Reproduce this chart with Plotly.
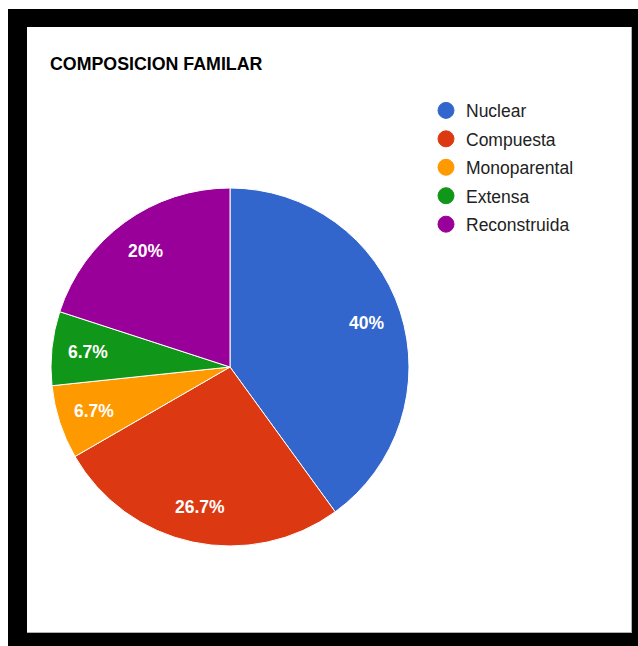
import math
import plotly.graph_objects as go

# ---- data ----
categories = ["Nuclear", "Compuesta", "Monoparental", "Extensa", "Reconstruida"]
counts = [6, 4, 1, 1, 3]
colors = ["#3366cc", "#dc3912", "#ff9900", "#109618", "#990099"]
title_text = "COMPOSICION FAMILAR"

W, H = 638, 646
FONT = "Liberation Sans, Arial, sans-serif"

total = sum(counts)
def fmt_pct(v):
    s = f"{v / total * 100:.1f}".rstrip("0").rstrip(".")
    return s + "%"
labels_txt = [fmt_pct(v) for v in counts]

fig = go.Figure()

# pie geometry (pixels): center (230,367), radius 179
cx, cy, r = 230, 367, 179
fig.add_trace(go.Pie(
    labels=categories,
    values=counts,
    text=labels_txt,
    textinfo="none",
    sort=False,
    direction="clockwise",
    rotation=0,
    marker=dict(colors=colors, line=dict(color="white", width=1)),
    domain=dict(x=[(cx - r) / W, (cx + r) / W], y=[1 - (cy + r) / H, 1 - (cy - r) / H]),
    showlegend=False,
    hoverinfo="label+percent",
))

# slice labels placed at 0.8 of the radius along each slice bisector
annotations = []
cum = 0
for v, t in zip(counts, labels_txt):
    mid = (cum + v / 2) / total * 2 * math.pi
    cum += v
    px = cx + 0.8 * r * math.sin(mid)
    py = cy - 0.8 * r * math.cos(mid)
    annotations.append(dict(
        x=px / W, y=1 - py / H, xref="paper", yref="paper",
        text=t, showarrow=False, xanchor="center", yanchor="middle",
        font=dict(family=FONT, size=17.5, color="white", weight="bold"),
    ))

# legend entries as circles
for i, (name, col) in enumerate(zip(categories, colors)):
    fig.add_trace(go.Scatter(
        x=[None], y=[None], mode="markers", name=name,
        legendgroup=f"g{i}",
        marker=dict(symbol="circle", size=16, color=col, line=dict(color=col, width=1)),
    ))

fig.update_layout(
    width=W, height=H,
    margin=dict(l=0, r=0, t=0, b=0),
    paper_bgcolor="white",
    plot_bgcolor="rgba(0,0,0,0)",
    xaxis=dict(visible=False),
    yaxis=dict(visible=False),
    title=dict(
        text=title_text,
        x=50 / W, xanchor="left", xref="paper",
        y=1 - 64 / H, yanchor="middle", yref="paper",
        font=dict(family=FONT, size=17.8, color="#000000", weight="bold"),
    ),
    legend=dict(
        x=426 / W, xanchor="left",
        y=1 - 92.5 / H, yanchor="top",
        traceorder="grouped",
        tracegroupgap=2.7,
        font=dict(family=FONT, size=17.5, color="#222222"),
        bgcolor="rgba(0,0,0,0)",
        itemclick=False, itemdoubleclick=False,
    ),
    annotations=annotations,
    shapes=[
        dict(type="rect", xref="paper", yref="paper", layer="below",
             x0=8 / W, x1=1.0, y0=0, y1=1 - 9 / H,
             fillcolor="black", line=dict(width=0)),
        dict(type="rect", xref="paper", yref="paper", layer="below",
             x0=27 / W, x1=632 / W, y0=1 - 633 / H, y1=1 - 27 / H,
             fillcolor="#b0b0b0", line=dict(width=0)),
        dict(type="rect", xref="paper", yref="paper", layer="below",
             x0=27 / W, x1=631 / W, y0=1 - 632 / H, y1=1 - 27 / H,
             fillcolor="white", line=dict(width=0)),
    ],
)

fig.write_html("out.html", config={"displayModeBar": False},
               post_script="document.body.style.margin='0';document.body.style.padding='0';")
